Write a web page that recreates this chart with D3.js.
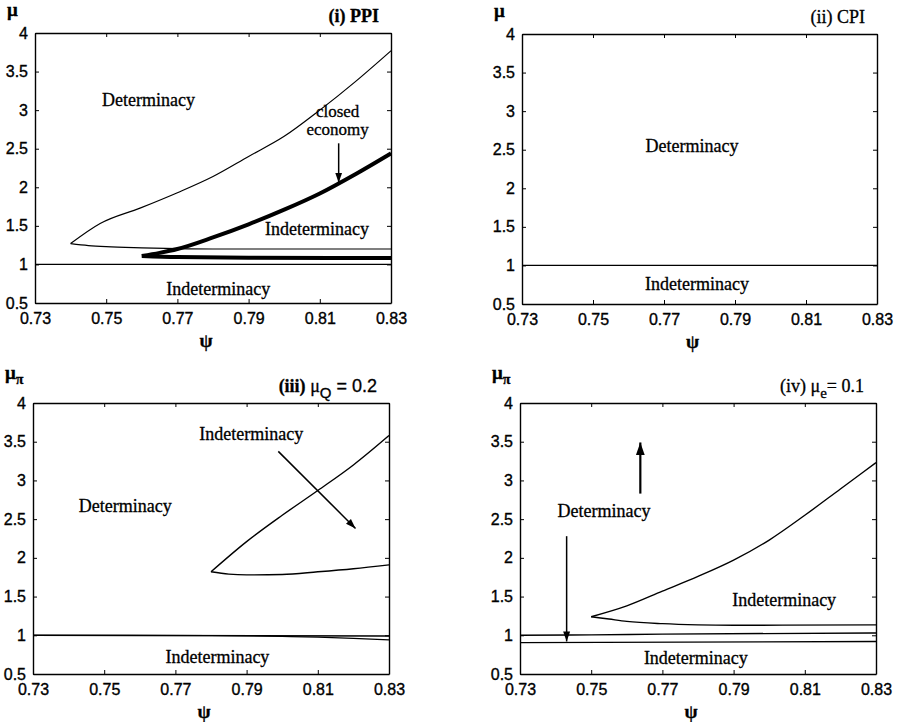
<!DOCTYPE html>
<html>
<head>
<meta charset="utf-8">
<script src="https://cdn.jsdelivr.net/npm/d3@7"></script>
<style>
  body { margin:0; background:#fff; }
  svg { display:block; }
  .tick text { font-family:"Liberation Sans", Arial, sans-serif; font-size:16px; fill:#000; stroke:#000; stroke-width:0.35px; }
  .lbl { font-family:"Liberation Serif", "Times New Roman", serif; font-size:18px; fill:#000; stroke:#000; stroke-width:0.3px; }
</style>
</head>
<body>
<svg width="898" height="722"></svg>
<script>
var xTicks = [0.73, 0.75, 0.77, 0.79, 0.81, 0.83];
var yTicks = [0.5, 1, 1.5, 2, 2.5, 3, 3.5, 4];

// (i) PPI
var ppiUpper = [[0.74,1.27],[0.7483,1.53],[0.7595,1.73],[0.77,1.93],[0.78,2.14],[0.79,2.40],[0.80,2.66],[0.81,3.0],[0.82,3.37],[0.83,3.77]];
var ppiLower = [[0.74,1.27],[0.745,1.245],[0.75,1.23],[0.76,1.215],[0.77,1.205],[0.78,1.2],[0.83,1.2]];
var closedUpper = [[0.76,1.11],[0.765,1.15],[0.77,1.2],[0.78,1.35],[0.79,1.52],[0.80,1.71],[0.81,1.92],[0.82,2.17],[0.83,2.44]];
var closedLower = [[0.76,1.11],[0.77,1.095],[0.79,1.088],[0.83,1.083]];
var unitLine = [[0.73,1],[0.83,1]];

// (iii) mu_Q = 0.2
var q02Upper = [[0.78,1.82],[0.79,2.21],[0.80,2.55],[0.81,2.87],[0.82,3.2],[0.83,3.58]];
var q02Lower = [[0.78,1.82],[0.785,1.79],[0.79,1.78],[0.80,1.785],[0.81,1.82],[0.82,1.86],[0.83,1.91]];
var q02FlatA = [[0.73,1.0],[0.83,0.99]];
var q02FlatB = [[0.73,1.0],[0.78,0.997],[0.80,0.985],[0.81,0.975],[0.82,0.96],[0.83,0.94]];

// (iv) mu_e = 0.1
var e01Upper = [[0.75,1.24],[0.76,1.38],[0.77,1.57],[0.78,1.76],[0.79,1.97],[0.80,2.23],[0.81,2.55],[0.82,2.89],[0.83,3.23]];
var e01Lower = [[0.75,1.24],[0.755,1.21],[0.76,1.18],[0.77,1.15],[0.78,1.135],[0.79,1.13],[0.83,1.135]];
var e01FlatA = [[0.73,1.0],[0.75,1.005],[0.77,1.015],[0.83,1.03]];
var e01FlatB = [[0.73,0.905],[0.83,0.92]];

var svg = d3.select('svg');

var defs = svg.append('defs');
defs.append('marker').attr('id','head').attr('viewBox','0 0 10 10')
  .attr('refX',10).attr('refY',5).attr('markerWidth',10).attr('markerHeight',10)
  .attr('markerUnits','userSpaceOnUse').attr('orient','auto')
  .append('path').attr('d','M0,1.5L10,5L0,8.5Z').attr('fill','#000');
defs.append('marker').attr('id','headBig').attr('viewBox','0 0 10 10')
  .attr('refX',10).attr('refY',5).attr('markerWidth',13).attr('markerHeight',13)
  .attr('markerUnits','userSpaceOnUse').attr('orient','auto')
  .append('path').attr('d','M0,1.5L10,5L0,8.5Z').attr('fill','#000');

var panels = [
  { x0:35, x1:391, y0:33, y1:303,
    ylab:'μ', ysub:null,
    title:[{t:'(i) PPI', w:'bold'}],
    lines:[{d:ppiUpper,w:1.2},{d:ppiLower,w:1.2},{d:closedUpper,w:4},{d:closedLower,w:4},{d:unitLine,w:1.2}],
    texts:[{t:'Determinacy',x:0.7619,y:3.06},{t:'closed',x:0.815,y:2.91,s:17},{t:'economy',x:0.815,y:2.68,s:17},
           {t:'Indeterminacy',x:0.8092,y:1.38},{t:'Indeterminacy',x:0.7815,y:0.61}],
    arrows:[{a:[0.8153,2.57],b:[0.8153,2.06]}] },
  { x0:522, x1:877, y0:34, y1:304,
    ylab:'μ', ysub:null,
    title:[{t:'(ii) CPI', w:'normal'}],
    lines:[{d:unitLine,w:1.2}],
    texts:[{t:'Determinacy',x:0.7779,y:2.47},{t:'Indeterminacy',x:0.7793,y:0.68}],
    arrows:[] },
  { x0:33, x1:389, y0:403, y1:674,
    ylab:'μ', ysub:'π',
    title:[{t:'(iii) ', w:'bold'},{t:'μ', w:'normal'},{t:'Q', w:'normal', sub:true, sans:true},{t:' = 0.2', w:'normal', sans:true}],
    lines:[{d:q02Upper,w:1.4},{d:q02Lower,w:1.4},{d:q02FlatA,w:1.4},{d:q02FlatB,w:1.2}],
    texts:[{t:'Indeterminacy',x:0.7913,y:3.52},{t:'Determinacy',x:0.7559,y:2.59},{t:'Indeterminacy',x:0.7818,y:0.64}],
    arrows:[{a:[0.7989,3.375],b:[0.8206,2.38]}] },
  { x0:520, x1:876, y0:403, y1:674,
    ylab:'μ', ysub:'π',
    title:[{t:'(iv) μ', w:'normal'},{t:'e', w:'normal', sub:true},{t:'= 0.1', w:'normal'}],
    lines:[{d:e01Upper,w:1.4},{d:e01Lower,w:1.4},{d:e01FlatA,w:1.4},{d:e01FlatB,w:1.4}],
    texts:[{t:'Determinacy',x:0.7536,y:2.53},{t:'Indeterminacy',x:0.8042,y:1.38},{t:'Indeterminacy',x:0.7794,y:0.63}],
    arrows:[{a:[0.7431,2.28],b:[0.7431,0.92]},{a:[0.7638,2.83],b:[0.7638,3.49],big:true}] }
];

panels.forEach(function(p) {
  var w = p.x1 - p.x0, h = p.y1 - p.y0;
  var x = d3.scaleLinear().domain([0.73, 0.83]).range([0, w]);
  var y = d3.scaleLinear().domain([0.5, 4]).range([h, 0]);
  var g = svg.append('g').attr('transform', 'translate(' + p.x0 + ',' + p.y0 + ')');

  // axes box with inward ticks
  g.append('g').attr('transform', 'translate(0,' + h + ')')
    .call(d3.axisBottom(x).tickValues(xTicks).tickSize(-4).tickSizeOuter(0).tickPadding(10).tickFormat(d3.format('.2f')));
  g.append('g')
    .call(d3.axisTop(x).tickValues(xTicks).tickSize(-4).tickSizeOuter(0).tickFormat(''));
  g.append('g')
    .call(d3.axisLeft(y).tickValues(yTicks).tickSize(-4).tickSizeOuter(0).tickPadding(7).tickFormat(function(d){ return d; }));
  g.append('g').attr('transform', 'translate(' + w + ',0)')
    .call(d3.axisRight(y).tickValues(yTicks).tickSize(-4).tickSizeOuter(0).tickFormat(''));
  g.selectAll('.domain').attr('stroke', '#000').attr('stroke-width', 1.4);
  g.selectAll('.tick line').attr('stroke', '#000');

  var line = d3.line().x(function(d){ return x(d[0]); }).y(function(d){ return y(d[1]); })
    .curve(d3.curveMonotoneX);

  g.selectAll('path.curve').data(p.lines).enter().append('path')
    .attr('class', 'curve')
    .attr('d', function(d){ return line(d.d); })
    .attr('fill', 'none').attr('stroke', '#000')
    .attr('stroke-width', function(d){ return d.w; })
    .attr('stroke-linejoin', 'round');

  g.selectAll('line.arrow').data(p.arrows).enter().append('line')
    .attr('class', 'arrow')
    .attr('x1', function(d){ return x(d.a[0]); }).attr('y1', function(d){ return y(d.a[1]); })
    .attr('x2', function(d){ return x(d.b[0]); }).attr('y2', function(d){ return y(d.b[1]); })
    .attr('stroke', '#000').attr('stroke-width', function(d){ return d.big ? 2.2 : 1.5; })
    .attr('marker-end', function(d){ return d.big ? 'url(#headBig)' : 'url(#head)'; });

  g.selectAll('text.region').data(p.texts).enter().append('text')
    .attr('class', 'lbl region')
    .attr('x', function(d){ return x(d.x); })
    .attr('y', function(d){ return y(d.y); })
    .attr('text-anchor', 'middle')
    .style('font-size', function(d){ return (d.s || 18) + 'px'; })
    .text(function(d){ return d.t; });

  // title, right aligned above the box
  var title = g.append('text').attr('class', 'lbl')
    .attr('x', w - 12).attr('y', -11).attr('text-anchor', 'end');
  p.title.forEach(function(s, i) {
    var ts = title.append('tspan').text(s.t).attr('font-weight', s.w);
    if (s.sans) ts.attr('font-family', '"Liberation Sans", Arial, sans-serif');
    if (s.sub) ts.attr('dy', 6).style('font-size', '15px');
    else if (i > 0 && p.title[i-1].sub) ts.attr('dy', -6);
  });

  // y label
  var yl = g.append('text').attr('class', 'lbl')
    .attr('x', -28).attr('y', p.ysub ? -24 : -17)
    .attr('font-weight', 'bold').style('font-size', '19px').text(p.ylab);
  if (p.ysub) yl.append('tspan').attr('dy', 5).style('font-size', '14px').text(p.ysub);

  // x label
  g.append('text').attr('class', 'lbl')
    .attr('x', w / 2 - 7).attr('y', h + 44)
    .attr('text-anchor', 'middle').attr('font-weight', 'bold').style('font-size', '19px').text('ψ');
});
</script>
</body>
</html>
